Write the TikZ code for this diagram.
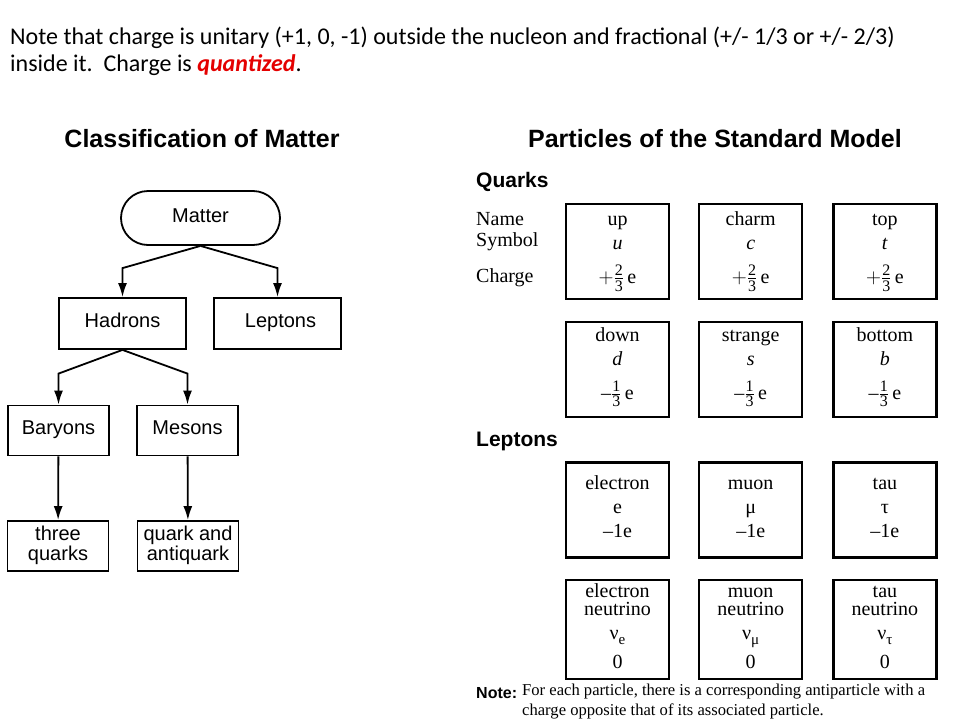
\documentclass[tikz,border=0pt]{standalone}
\usepackage{amsmath}
\usepackage{fontspec}
\setmainfont{Liberation Serif}
\setsansfont{Liberation Sans}
\newfontfamily\calibri{Carlito}
\usetikzlibrary{arrows.meta, positioning}
\definecolor{quantred}{RGB}{228,0,0}
\newcommand{\fraccharge}[2]{$#1\frac{\text{\fontsize{16}{16}\selectfont #2}}{\text{\fontsize{16}{16}\selectfont 3}}$\,e}
\newcommand{\nusub}[1]{ν\raisebox{-5pt}[0pt][0pt]{\fontsize{15}{15}\selectfont #1}}
\newcommand{\namestrut}{\rule{0pt}{14pt}}
\newcommand{\footstrut}[1]{\rule[-#1]{0pt}{#1}}

\begin{document}
\begin{tikzpicture}[
    x=1pt, y=-1pt,
    % --- Global Styles ---
    base/.style={draw, line width=1.8pt, align=center, inner sep=0pt, font=\sffamily\fontsize{20}{20}\selectfont,
        execute at begin node=\strut, execute at end node=\strut},
    flowbox/.style={base, rectangle, minimum width=127pt, minimum height=51pt},
    smallbox/.style={base, rectangle, minimum width=101pt, minimum height=50pt},
    terminal/.style={base, rounded corners=27pt, minimum width=159pt, minimum height=54pt},
    particle/.style={draw, line width=2.2pt, align=center, inner sep=0pt, minimum width=103pt, minimum height=95pt,
        font=\fontsize{20}{24}\selectfont},
    neutrino/.style={particle, minimum height=99pt, font=\fontsize{20}{18.5}\selectfont},
    heading/.style={font=\sffamily\bfseries\fontsize{25}{25}\selectfont},
    subheading/.style={anchor=west, inner sep=0pt, font=\sffamily\bfseries\fontsize{21}{21}\selectfont},
    rowlabel/.style={anchor=west, inner sep=0pt, font=\fontsize{20}{20}\selectfont},
    arrow/.style={-{Latex[length=14pt,width=9pt]}, line width=1.8pt}
]
    \useasboundingbox[fill=white] (0,0) rectangle (960,720);

    % --- Note at the top ---
    \node[anchor=north west, align=left, inner sep=0pt, font=\calibri\fontsize{24}{27}\selectfont] (topnote) at (10,27)
        {Note that charge is unitary (+1, 0, -1) outside the nucleon and fractional (+/- 1/3 or +/- 2/3)\\
         inside it.\ \ Charge is {\color{quantred}\bfseries\itshape quantized}.};

    % --- Classification of Matter ---
    \node[heading] (classtitle) at (202,139) {Classification of Matter};
    \node[terminal] (matter) at (200.5,218) {Matter};
    \node[flowbox] (hadrons) at (122.5,323.5) {Hadrons};
    \node[flowbox] (leptons) at (277.5,323.5) {\hspace{6pt}Leptons};
    \node[smallbox] (baryons) at (58.5,430.5) {Baryons};
    \node[smallbox] (mesons) at (187.5,430.5) {Mesons};
    \node[smallbox] (three) at (58,546) {three\\quarks};
    \node[smallbox] (quarkpair) at (188,546) {quark and\\antiquark};

    \draw[arrow] (matter.south) -- ([yshift=29pt]hadrons.north) -- (hadrons.north);
    \draw[arrow] (matter.south) -- ([yshift=29pt]leptons.north) -- (leptons.north);
    \draw[arrow] (hadrons.south) -- ([yshift=31pt]baryons.north) -- (baryons.north);
    \draw[arrow] (hadrons.south) -- ([yshift=31pt]mesons.north) -- (mesons.north);
    \draw[arrow] (baryons) -- (three);
    \draw[arrow] (mesons) -- (quarkpair);

    % --- Particles of the Standard Model ---
    \node[heading] (smtitle) at (715,139) {Particles of the Standard Model};
    \node[subheading] (quarkhead) at (476,182) {Quarks};
    \node[rowlabel] (namelabel) at (476,219) {Name};
    \node[rowlabel] (symlabel) at (476,242) {Symbol};
    \node[rowlabel] (chargelabel) at (476,278) {Charge};

    \node[particle] (up) at (617.5,251.5) {\namestrut up\\\textit{u}\\[10pt]\fraccharge{+}{2}};
    \node[particle, right=28pt of up] (charm) {\namestrut charm\\\textit{c}\\[10pt]\fraccharge{+}{2}};
    \node[particle, right=29pt of charm] (top) {\namestrut top\\\textit{t}\\[10pt]\fraccharge{+}{2}};
    \node[particle, below=21pt of up] (down) {\namestrut down\\\textit{d}\\[10pt]\fraccharge{–}{1}\footstrut{13pt}};
    \node[particle, below=21pt of charm] (strange) {\namestrut strange\\\textit{s}\\[10pt]\fraccharge{–}{1}\footstrut{13pt}};
    \node[particle, below=21pt of top] (bottom) {\namestrut bottom\\\textit{b}\\[10pt]\fraccharge{–}{1}\footstrut{13pt}};

    \node[subheading] (leptonhead) at (476,441) {Leptons};

    \node[particle, below=43pt of down] (electron) {\namestrut electron\\e\\–1e\footstrut{6pt}};
    \node[particle, below=43pt of strange] (muon) {\namestrut muon\\μ\\–1e\footstrut{6pt}};
    \node[particle, below=43pt of bottom] (tau) {\namestrut tau\\τ\\–1e\footstrut{6pt}};
    \node[neutrino, below=20pt of electron] (enu) {\namestrut electron\\neutrino\\[5.5pt]\nusub{e}\\[10pt]0\footstrut{7pt}};
    \node[neutrino, below=20pt of muon] (munu) {\namestrut muon\\neutrino\\[5.5pt]\nusub{μ}\\[10pt]0\footstrut{7pt}};
    \node[neutrino, below=20pt of tau] (taunu) {\namestrut tau\\neutrino\\[5.5pt]\nusub{τ}\\[10pt]0\footstrut{7pt}};

    % --- Footnote ---
    \node[anchor=west, inner sep=0pt, font=\sffamily\bfseries\fontsize{16}{16}\selectfont] (notelabel) at (476,693) {Note:};
    \node[anchor=north west, align=left, inner sep=0pt, font=\fontsize{16.6}{20}\selectfont] (notetext) at (522,684)
        {For each particle, there is a corresponding antiparticle with a\\charge opposite that of its associated particle.};

\end{tikzpicture}
\end{document}
